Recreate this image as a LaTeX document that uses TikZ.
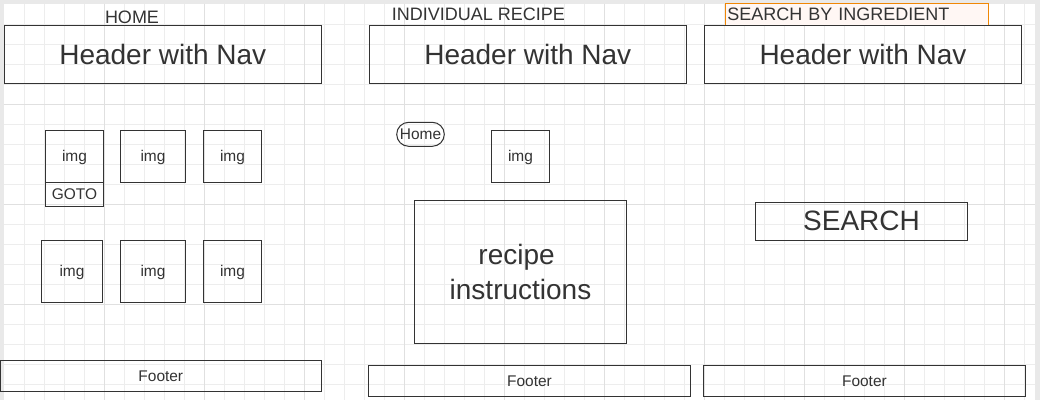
\documentclass[tikz,border=0pt]{standalone}
\usepackage{fontspec}
\setmainfont{Liberation Sans}
\definecolor{ink}{HTML}{333333}
\definecolor{gridminor}{HTML}{EDEDED}
\definecolor{gridmajor}{HTML}{E0E0E0}
\definecolor{frame}{HTML}{E9E9E9}
\definecolor{tabline}{HTML}{F08705}
\definecolor{tabfill}{HTML}{FFF7F4}
\tikzset{
  box/.style={draw=ink, line width=0.75pt, text=ink, inner sep=0pt},
  hdr/.style={box, minimum width=237.75pt, minimum height=43.5pt, font=\fontsize{21}{25}\selectfont},
  imgbox/.style={box, text depth=0pt, font=\fontsize{11.6}{14}\selectfont},
  foot/.style={box, minimum width=241.2pt, minimum height=23.25pt, font=\fontsize{11.6}{14}\selectfont},
  bigbox/.style={box, minimum width=159.3pt, font=\fontsize{21}{25.8}\selectfont},
  pagetitle/.style={text=ink, anchor=base, inner sep=0pt, font=\fontsize{13.5}{16}\selectfont}
}
\begin{document}
\begin{tikzpicture}[x=0.75pt, y=-0.75pt]
  \useasboundingbox (0,0) rectangle (1040,400);
  % canvas with grid
  \fill[frame] (0,0) rectangle (1040,400);
  \fill[white] (3.5,3.5) rectangle (1034.5,401);
  \foreach \gx in {24,44,...,1024} \draw[gridminor, line width=0.75pt] (\gx,3.5) -- (\gx,400);
  \foreach \gy in {24,44,...,384} \draw[gridminor, line width=0.75pt] (3.5,\gy) -- (1034.5,\gy);
  \foreach \gx in {104,204,...,1004} \draw[gridmajor, line width=0.75pt] (\gx,3.5) -- (\gx,400);
  \foreach \gy in {104,204,304} \draw[gridmajor, line width=0.75pt] (3.5,\gy) -- (1034.5,\gy);

  % home page
  \node[pagetitle] (hometitle) at (132,23.3) {HOME};
  \node[hdr] (hdr1) at (162.8,54) {Header with Nav};
  \node[imgbox, minimum width=43.8pt, minimum height=39pt] (img1) at (74.5,156.3) {img};
  \node[imgbox, minimum width=49.05pt, minimum height=39pt] (img2) at (153,156.3) {img};
  \node[imgbox, minimum width=43.8pt, minimum height=39pt] (img3) at (232.5,156.3) {img};
  \node[imgbox, minimum width=43.8pt, minimum height=18pt] (goto) at (74.5,194.3) {GOTO};
  \node[imgbox, minimum width=46.05pt, minimum height=46.5pt] (img4) at (72,271.3) {img};
  \node[imgbox, minimum width=49.05pt, minimum height=46.5pt] (img5) at (153,271.3) {img};
  \node[imgbox, minimum width=43.8pt, minimum height=46.5pt] (img6) at (232.5,271.3) {img};
  \node[foot] (foot1) at (160.8,376.2) {Footer};

  % recipe page
  \node[pagetitle] (recipetitle) at (478.5,20) {INDIVIDUAL RECIPE};
  \node[hdr] (hdr2) at (527.8,54) {Header with Nav};
  \node[imgbox, rounded corners=9pt, minimum width=35.7pt, minimum height=18pt] (home) at (420.5,134.3) {Home};
  \node[imgbox, minimum width=43.8pt, minimum height=39pt] (img7) at (520.5,156.3) {img};
  \node[bigbox, minimum height=107.55pt, align=center] (instr) at (520.5,272) {recipe\hspace*{.28em}\\instructions};
  \node[foot] (foot2) at (529.5,380.8) {Footer};

  % search page
  \node[draw=tabline, fill=tabfill, line width=0.75pt, text=ink, inner xsep=1.5pt, inner ysep=0pt,
        minimum height=16.5pt, text width=194.25pt, align=left, font=\fontsize{13.5}{16}\selectfont]
        (searchtitle) at (856.8,14.2) {SEARCH BY INGREDIENT};
  \node[hdr] (hdr3) at (863,54) {Header with Nav};
  \node[bigbox, minimum height=28.5pt] (search) at (861.5,221.3) {SEARCH};
  \node[foot] (foot3) at (864.4,380.8) {Footer};
\end{tikzpicture}
\end{document}
